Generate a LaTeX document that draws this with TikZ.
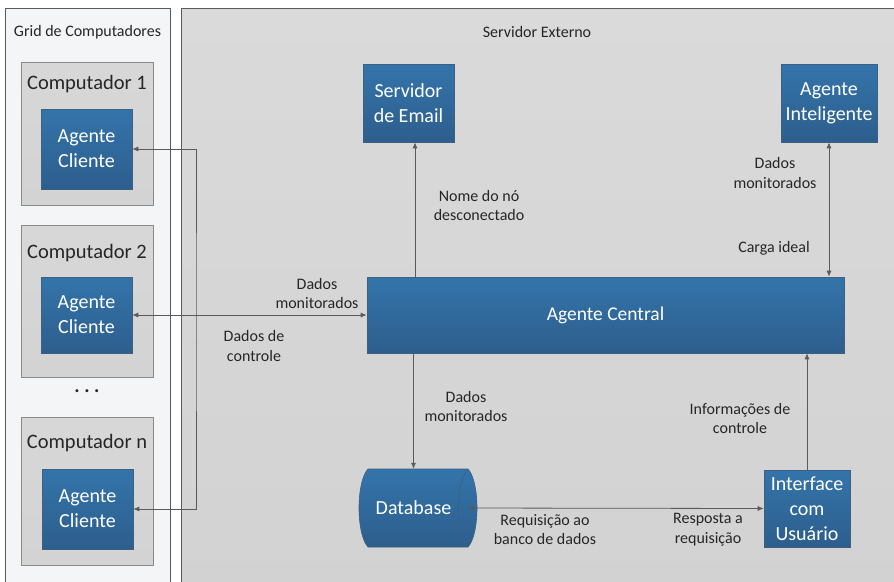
\documentclass[tikz,border=0pt]{standalone}
\usepackage{fontspec}
\setmainfont{Carlito}
\usetikzlibrary{arrows.meta,calc}
\definecolor{bluetop}{HTML}{3474AA}
\definecolor{bluebot}{HTML}{2D5E8D}
\definecolor{blueedge}{HTML}{3D5F80}
\definecolor{panelgray}{HTML}{D2D2D2}
\definecolor{panelgraytop}{HTML}{DADADA}
\definecolor{boxgray}{HTML}{D3D3D3}
\definecolor{boxedge}{HTML}{8A8A8A}
\definecolor{leftpanel}{HTML}{F4F5F7}
\definecolor{linegray}{HTML}{5A5A5A}
\definecolor{txt}{HTML}{262626}
\tikzset{
  bluebox/.style={draw=blueedge, line width=0.6pt, top color=bluetop, bottom color=bluebot,
    text=white, align=center, inner sep=0pt, font=\fontsize{20}{25}\selectfont},
  graybox/.style={draw=boxedge, line width=0.8pt, top color=boxgray!90!white, bottom color=boxgray, inner sep=0pt},
  boxtitle/.style={text=txt, font=\fontsize{20.5}{24}\selectfont, inner sep=0pt},
  lbl/.style={text=txt, align=center, font=\fontsize{16}{19.5}\selectfont, inner sep=0pt},
  conn/.style={draw=linegray, line width=0.8pt},
  arr/.style={conn, -{Latex[length=6pt,width=5pt]}},
  arrboth/.style={conn, {Latex[length=6pt,width=5pt]}-{Latex[length=6pt,width=5pt]}},
}
\begin{document}
\begin{tikzpicture}[x=1pt,y=-1pt]
\useasboundingbox (0,0) rectangle (894,581);
\clip (0,0) rectangle (894,581);
\fill[white] (0,0) rectangle (894,581);
% panels
\path[draw=linegray, line width=0.9pt, fill=leftpanel] (5,8) rectangle (170,600);
\path[draw=linegray, line width=0.9pt, top color=panelgraytop, bottom color=panelgray] (181,8) rectangle (900,600);
\node[lbl] (gridt) at (87.5,32) {Grid de Computadores};
\node[lbl] (servt) at (537,32) {Servidor Externo};
% computers
\node[graybox, minimum width=132pt, minimum height=143pt] (c1) at (87,133.5) {};
\node[boxtitle] (c1t) at (87,84) {Computador 1};
\node[bluebox, minimum width=91pt, minimum height=80pt] (a1) at (86.5,149) {Agente\\Cliente};
\node[graybox, minimum width=132pt, minimum height=152pt] (c2) at (87,301) {};
\node[boxtitle] (c2t) at (87,253) {Computador 2};
\node[bluebox, minimum width=91pt, minimum height=76pt] (a2) at (86.5,315) {Agente\\Cliente};
\node[text=txt, font=\fontsize{20}{24}\selectfont\bfseries, inner sep=0pt] (dots) at (87,391) {.\hspace{4.5pt}.\hspace{4.5pt}.};
\node[graybox, minimum width=132pt, minimum height=148pt] (cn) at (87,491) {};
\node[boxtitle] (cnt) at (87,443) {Computador n};
\node[bluebox, minimum width=91pt, minimum height=80pt] (an) at (87.5,509) {Agente\\Cliente};
% server side
\node[bluebox, minimum width=91pt, minimum height=78pt] (email) at (408.5,103) {Servidor\\de Email};
\node[bluebox, minimum width=96pt, minimum height=78pt] (intel) at (829,103) {Agente\\Inteligente};
\node[bluebox, minimum width=477pt, minimum height=76pt, font=\fontsize{19.5}{24}\selectfont] (central) at (605.5,315) {Agente Central};
\node[bluebox, minimum width=86pt, minimum height=77pt] (iface) at (807,508.5) {Interface\\com\\Usuário};
% database (horizontal cylinder)
\path[draw=blueedge, line width=0.6pt, top color=bluetop, bottom color=bluebot]
  (368,469) -- (468,469) .. controls (480,482) and (480,534) .. (468,547)
  -- (368,547) .. controls (356,534) and (356,482) .. (368,469) -- cycle;
\draw[blueedge, line width=0.6pt] (468,469) .. controls (455,482) and (455,534) .. (468,547);
\node[text=white, font=\fontsize{20}{24.5}\selectfont, inner sep=0pt, minimum width=109pt, minimum height=78pt] (db) at (413.5,508) {Database};
% connectors
\coordinate (emailin) at ([xshift=6.5pt]email.south);
\draw[arr] (central.north -| emailin) -- (emailin);
\draw[arrboth] (intel.south) -- (central.north -| intel.south);
\draw[arr] (central.south -| db.north) -- (db.north);
\draw[arr] (iface.north) -- (central.south -| iface.north);
\draw[arrboth] (db.east) -- (iface.west);
\draw[arrboth] (a2.east) -- (central.west);
\coordinate (bus) at (196,315);
\draw[arrboth] (a1.east) -| (bus) |- (an.east);
% labels
\node[lbl] (l1) at (479,205.5) {Nome do nó\\desconectado};
\node[lbl] (l2) at (775,173) {Dados\\monitorados};
\node[lbl] (l3) at (774,248) {Carga ideal};
\node[lbl] (l4) at (317,293.5) {Dados\\monitorados};
\node[lbl] (l5) at (254,346) {Dados de\\controle};
\node[lbl] (l6) at (466,406.5) {Dados\\monitorados};
\node[lbl] (l7) at (740,418.5) {Informações de\\controle};
\node[lbl] (l8) at (545,529.5) {Requisição ao\\banco de dados};
\node[lbl] (l9) at (708,529.5) {Resposta a\\requisição};
\end{tikzpicture}
\end{document}
